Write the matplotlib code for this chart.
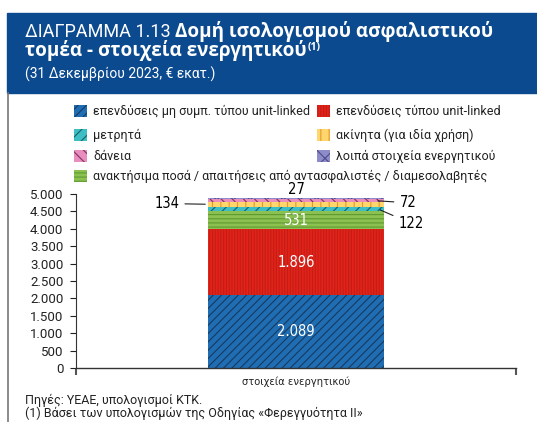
import matplotlib
matplotlib.use("Agg")
import matplotlib.pyplot as plt
from matplotlib.patches import Rectangle
from matplotlib.ticker import FuncFormatter

plt.rcParams['font.family'] = ['Roboto', 'DejaVu Sans']
plt.rcParams['hatch.linewidth'] = 0.8

# data (bottom to top)
categories = [
    'επενδύσεις μη συμπ. τύπου unit-linked',
    'επενδύσεις τύπου unit-linked',
    'ανακτήσιμα ποσά / απαιτήσεις από αντασφαλιστές / διαμεσολαβητές',
    'μετρητά',
    'ακίνητα (για ιδία χρήση)',
    'δάνεια',
    'λοιπά στοιχεία ενεργητικού',
]
values = [2089, 1896, 531, 122, 134, 72, 27]
value_labels = ['2.089', '1.896', '531', '122', '134', '72', '27']
xlabel = 'στοιχεία ενεργητικού'

faces = ['#1f6db3', '#e2231a', '#8cc152', '#3dbdc4', '#ffd56e', '#e98cc0', '#8e8bc9']
hatch_cols = ['#183a5e', '#c41d16', '#5f9a31', '#175f66', '#e39a2a', '#7a3558', '#4f4b8a']
hatches = ['////', '||||||', '----', '///', '||', '\\\\\\', 'xx']

W, H = 537, 422
fig = plt.figure(figsize=(W / 100, H / 100), dpi=100)

def fx(px):
    return px / W

def fy(py):
    return 1 - py / H

# header
fig.patches.append(Rectangle((fx(7), fy(93)), fx(530), (93 - 13) / H,
                             transform=fig.transFigure, color='#0b4a8e', zorder=0))
# left frame line
fig.add_artist(plt.Line2D([fx(8), fx(8)], [fy(93), 0], color='#777777', lw=1.2))

renderer = fig.canvas.get_renderer()
bold = dict(family=['Open Sans', 'DejaVu Sans'], fontweight='bold')
t1 = fig.text(fx(25), fy(37), 'ΔΙΑΓΡΑΜΜΑ 1.13 ', color='white', fontsize=13, va='baseline')
bb = t1.get_window_extent(renderer)
fig.text(bb.x1 / W, fy(37), 'Δομή ισολογισμού ασφαλιστικού', color='white',
         fontsize=13.6, va='baseline', **bold)
t2 = fig.text(fx(25), fy(56), 'τομέα - στοιχεία ενεργητικού', color='white',
              fontsize=13.6, va='baseline', **bold)
bb = t2.get_window_extent(renderer)
fig.text(bb.x1 / W + 0.002, fy(50), '(1)', color='white', fontsize=7.5,
         va='baseline', **bold)
fig.text(fx(25), fy(79), '(31 Δεκεμβρίου 2023, € εκατ.)', color='white',
         fontsize=10, va='baseline')

# legend (manual layout)
legend_pos = {
    0: (74, 111), 1: (317, 111),
    3: (74, 135), 4: (317, 135),
    5: (74, 156), 6: (317, 156),
    2: (74, 176),
}
for i, (px, py) in legend_pos.items():
    fig.patches.append(Rectangle((fx(px), fy(py + 6)), fx(13), 12 / H,
                                 transform=fig.transFigure, facecolor=faces[i],
                                 edgecolor=hatch_cols[i], hatch=hatches[i], lw=0))
    fig.text(fx(px + 19), fy(py), categories[i], fontsize=9, va='center',
             color='#222222')

# chart
ax = fig.add_axes([fx(76), fy(368), fx(516 - 76), (368 - 194) / H])
x = [0]
bottom = 0
tops = []
for i, v in enumerate(values):
    ax.bar(x, [v], bottom=bottom, width=0.8, color=faces[i], edgecolor=hatch_cols[i],
           hatch=hatches[i], lw=0)
    tops.append((bottom, bottom + v))
    bottom += v

ax.set_xlim(-1, 1)
ax.set_ylim(0, 5000)
ax.set_yticks(range(0, 5001, 500))
ax.yaxis.set_major_formatter(FuncFormatter(lambda v, p: f'{int(v):,}'.replace(',', '.')))
ax.set_xticks([-1, 1])
ax.set_xticklabels(['', ''])
ax.tick_params(axis='y', length=4, width=0.8, labelsize=9.5, pad=5, colors='#222222')
ax.tick_params(axis='x', length=5, width=1.5, colors='#555555', direction='out')
for s in ['top', 'right']:
    ax.spines[s].set_visible(False)
ax.spines['left'].set_color('#333333')
ax.spines['bottom'].set_color('#333333')
ax.spines['left'].set_linewidth(0.8)
ax.spines['bottom'].set_linewidth(1.0)

narrow = dict(family='DejaVu Sans', fontstretch='condensed')
ax.text(0, -0.08, xlabel, transform=ax.get_xaxis_transform(), ha='center', va='center',
        fontsize=8, color='#222222', **narrow)

# inner labels
for i in [0, 1, 2]:
    b0, b1 = tops[i]
    ax.text(0, (b0 + b1) / 2, value_labels[i], ha='center', va='center', color='white',
            fontsize=10.5, **narrow)
# outer labels
b0, b1 = tops[6]
ax.text(0, b1 + 30, value_labels[6], ha='center', va='bottom', fontsize=10.5, **narrow)
b0, b1 = tops[4]
ax.annotate(value_labels[4], xy=(-0.4, (b0 + b1) / 2), xytext=(-0.53, (b0 + b1) / 2 + 20),
            ha='right', va='center', fontsize=10.5, **narrow,
            arrowprops=dict(arrowstyle='-', color='#222222', lw=0.8))
b0, b1 = tops[5]
ax.annotate(value_labels[5], xy=(0.36, (b0 + b1) / 2), xytext=(0.47, (b0 + b1) / 2 - 60),
            ha='left', va='center', fontsize=10.5, **narrow,
            arrowprops=dict(arrowstyle='-', color='#222222', lw=0.8))
b0, b1 = tops[3]
ax.annotate(value_labels[3], xy=(0.37, (b0 + b1) / 2), xytext=(0.465, (b0 + b1) / 2 - 420),
            ha='left', va='center', fontsize=10.5, **narrow,
            arrowprops=dict(arrowstyle='-', color='#222222', lw=0.8))

# footer
fig.text(fx(25), fy(400), 'Πηγές: ΥΕΑΕ, υπολογισμοί ΚΤΚ.', fontsize=9, va='center',
         color='#222222')
fig.text(fx(25), fy(413), '(1) Βάσει των υπολογισμών της Οδηγίας «Φερεγγυότητα ΙΙ»',
         fontsize=9, va='center', color='#222222')

fig.savefig('out.png', dpi=100)
